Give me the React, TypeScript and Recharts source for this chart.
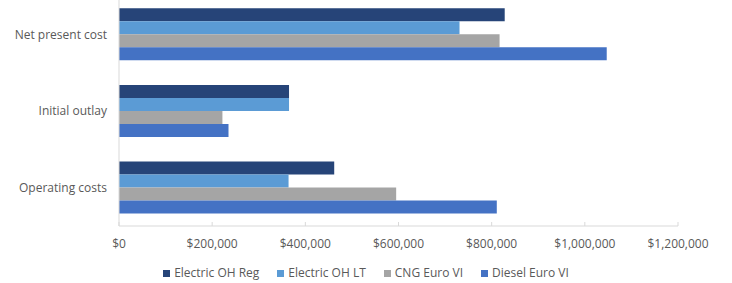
// Cost comparison by bus technology — horizontal clustered bars.

import { Bar, BarChart, Legend, XAxis, YAxis } from 'recharts';

const categories = ['Net present cost', 'Initial outlay', 'Operating costs'];
const electricOhReg = [828000, 365000, 462000];
const electricOhLt = [731000, 365000, 364000];
const cngEuroVi = [817000, 222000, 595000];
const dieselEuroVi = [1047000, 235000, 811000];
const xTicks = [0, 200000, 400000, 600000, 800000, 1000000, 1200000];

const series = [
  { key: 'reg', name: 'Electric OH Reg', color: '#264478', values: electricOhReg },
  { key: 'lt', name: 'Electric OH LT', color: '#5B9BD5', values: electricOhLt },
  { key: 'cng', name: 'CNG Euro VI', color: '#A5A5A5', values: cngEuroVi },
  { key: 'diesel', name: 'Diesel Euro VI', color: '#4472C4', values: dieselEuroVi },
];

const data = categories.map((name, i) => {
  const row: Record<string, string | number> = { name };
  series.forEach((s) => {
    row[s.key] = s.values[i];
  });
  return row;
});

const TEXT = '#595959';
const AXIS = '#D9D9D9';
const FONT = '"Open Sans", "Noto Sans", sans-serif';

const fmtUsd = (v: number) => `$${v.toLocaleString('en-US')}`;

// Excel-style inside ticks: short mark above the axis line, label below.
function XTick(props: any) {
  const { x, y, payload } = props;
  return (
    <g>
      <line x1={x} x2={x} y1={y - 4} y2={y} stroke={AXIS} />
      <text
        x={x}
        y={y + 18}
        dy="0.355em"
        textAnchor="middle"
        fill={TEXT}
        fontSize={12}
        fontFamily={FONT}
      >
        {fmtUsd(payload.value)}
      </text>
    </g>
  );
}

function LegendContent() {
  return (
    <div
      style={{
        display: 'flex',
        justifyContent: 'center',
        gap: 18,
        height: 20,
        lineHeight: '20px',
        fontSize: 12,
        color: TEXT,
        fontFamily: FONT,
      }}
    >
      {series.map((s) => (
        <div key={s.key} style={{ display: 'flex', alignItems: 'center' }}>
          <span
            style={{
              width: 7,
              height: 7,
              background: s.color,
              marginRight: 4,
              display: 'inline-block',
            }}
          />
          <span>{s.name}</span>
        </div>
      ))}
    </div>
  );
}

export default function App() {
  return (
    <div style={{ position: 'absolute', left: 0, top: 0, fontFamily: FONT }}>
      <BarChart
        width={732}
        height={283}
        data={data}
        layout="vertical"
        margin={{ top: -4, right: 54, bottom: 0, left: 0 }}
        barCategoryGap="16%"
        barGap={0}
      >
        <XAxis
          type="number"
          domain={[0, 1200000]}
          ticks={xTicks}
          interval={0}
          stroke={AXIS}
          tickLine={false}
          tickSize={0}
          tickMargin={0}
          height={37}
          tick={<XTick />}
        />
        <YAxis
          type="category"
          dataKey="name"
          width={119}
          stroke={AXIS}
          tickLine={false}
          tickSize={0}
          tickMargin={12}
          tick={{ fill: TEXT, fontSize: 12, fontFamily: FONT }}
        />
        <Legend
          verticalAlign="bottom"
          height={20}
          wrapperStyle={{ left: 0, width: 732 }}
          content={<LegendContent />}
        />
        {series.map((s) => (
          <Bar
            key={s.key}
            dataKey={s.key}
            name={s.name}
            fill={s.color}
            isAnimationActive={false}
          />
        ))}
      </BarChart>
    </div>
  );
}
